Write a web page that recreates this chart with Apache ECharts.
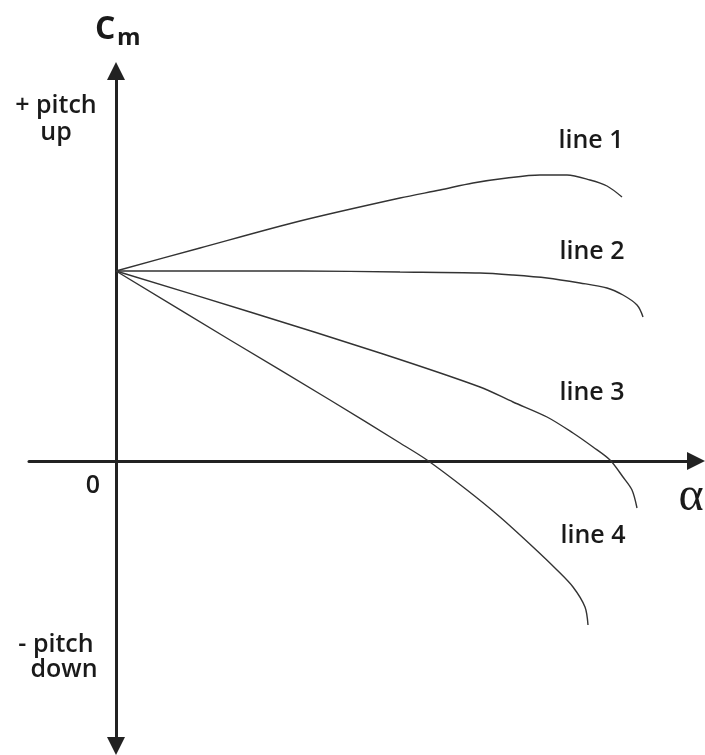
<!DOCTYPE html>
<html>
<head>
<meta charset="utf-8">
<script src="https://cdn.jsdelivr.net/npm/echarts@6/dist/echarts.min.js"></script>
<style>
html,body{margin:0;padding:0;background:#fff;}
#chart{width:705px;height:755px;}
</style>
</head>
<body>
<div id="chart"></div>
<script>
// Values (alpha, Cm) in arbitrary units; origin at the axes' crossing.
var line1X = [0, 0.84, 1.84, 2.84, 3.24, 3.57, 3.91, 4.24, 4.51, 4.74, 4.91, 5.06];
var line1Y = [1.90, 2.13, 2.40, 2.63, 2.71, 2.78, 2.83, 2.86, 2.86, 2.81, 2.75, 2.64];
var line2X = [0, 1.84, 2.84, 3.64, 3.97, 4.31, 4.64, 4.91, 5.07, 5.21, 5.27];
var line2Y = [1.90, 1.90, 1.89, 1.88, 1.86, 1.83, 1.78, 1.73, 1.66, 1.56, 1.44];
var line3X = [0, 1.34, 2.64, 3.64, 3.97, 4.31, 4.57, 4.77, 4.94, 5.07, 5.16, 5.21];
var line3Y = [1.90, 1.49, 1.08, 0.74, 0.59, 0.44, 0.28, 0.14, 0.01, -0.16, -0.29, -0.47];
var line4X = [0, 1.14, 2.14, 2.84, 3.11, 3.51, 3.84, 4.17, 4.41, 4.57, 4.69, 4.72];
var line4Y = [1.90, 1.21, 0.61, 0.18, 0.01, -0.29, -0.56, -0.86, -1.09, -1.26, -1.46, -1.64];
var seriesNames = ['line 1', 'line 2', 'line 3', 'line 4'];
var xRange = [-0.87, 5.80];
var yRange = [-2.85, 3.90];

function pairs(xs, ys) { return xs.map(function (x, i) { return [x, ys[i]]; }); }
var allX = [line1X, line2X, line3X, line4X];
var allY = [line1Y, line2Y, line3Y, line4Y];

var chart = echarts.init(document.getElementById('chart'), null, {renderer: 'canvas'});
var labelFont = '600 25px "Open Sans", sans-serif';
var axisColor = '#222';
function txt(x, y, text, font, align) {
  return {type: 'text', x: x, y: y, silent: true,
    style: {text: text, font: font, fill: '#1a1a1a', align: align || 'center', verticalAlign: 'middle',
      textAlign: align || 'center', textVerticalAlign: 'middle'}};
}
var option = {
  backgroundColor: '#ffffff',
  animation: false,
  grid: {left: 29, right: 9, top: 71, bottom: 9, containLabel: false},
  xAxis: {
    type: 'value', min: xRange[0], max: xRange[1],
    axisLine: {show: true, onZero: true, symbol: ['none', 'triangle'], symbolSize: [18, 18],
      lineStyle: {color: axisColor, width: 3}},
    axisTick: {show: false}, axisLabel: {show: false}, splitLine: {show: false}
  },
  yAxis: {
    type: 'value', min: yRange[0], max: yRange[1],
    axisLine: {show: true, onZero: true, symbol: ['triangle', 'triangle'], symbolSize: [18, 18],
      lineStyle: {color: axisColor, width: 3}},
    axisTick: {show: false}, axisLabel: {show: false}, splitLine: {show: false}
  },
  series: seriesNames.map(function (n, i) {
    return {
      name: n, type: 'line', smooth: 0.3, showSymbol: false, symbol: 'none',
      data: pairs(allX[i], allY[i]),
      lineStyle: {color: '#333', width: 1.4}
    };
  }),
  graphic: [
    txt(95, 30, 'C', 'bold 32px "Open Sans", sans-serif', 'left'),
    txt(117, 38, 'm', 'bold 24px "Open Sans", sans-serif', 'left'),
    txt(56, 106, '+ pitch', labelFont),
    txt(56, 133, 'up', labelFont),
    txt(56, 645, '- pitch', labelFont),
    txt(64, 670, 'down', labelFont),
    txt(93, 486, '0', labelFont),
    txt(691, 497, 'α', '48px "Liberation Serif", serif'),
    txt(591, 141, seriesNames[0], labelFont),
    txt(592, 252, seriesNames[1], labelFont),
    txt(592, 393, seriesNames[2], labelFont),
    txt(593, 536, seriesNames[3], labelFont)
  ]
};
chart.setOption(option);
</script>
</body>
</html>
